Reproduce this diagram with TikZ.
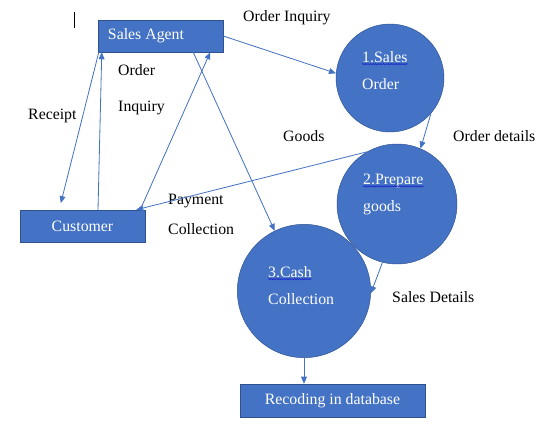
\documentclass[tikz,border=0pt]{standalone}
\usepackage{fontspec}
\setmainfont{Liberation Serif}
\usetikzlibrary{arrows.meta, decorations.pathmorphing}
\definecolor{FlowBlue}{RGB}{68, 114, 196}
\definecolor{FlowEdge}{RGB}{47, 82, 143}
\definecolor{SpellBlue}{RGB}{30, 40, 200}

\begin{document}
\begin{tikzpicture}[x=0.03cm, y=-0.03cm,
    every node/.style={font=\fontsize{13.5}{16}\selectfont},
    entity/.style={draw=FlowEdge, fill=FlowBlue, text=white, minimum height=0.96cm, inner sep=0pt},
    process/.style={circle, draw=FlowEdge, fill=FlowBlue, inner sep=0pt},
    ctext/.style={anchor=west, text=white, inner sep=0pt},
    flowtext/.style={anchor=west, inner sep=0pt},
    flow/.style={-{Triangle[length=6pt, width=5pt]}, draw=FlowBlue, line width=0.7pt},
    squiggle/.style={draw=SpellBlue, line width=0.6pt, decorate, decoration={snake, amplitude=0.5pt, segment length=2.2pt}}]
    \useasboundingbox (0,0) rectangle (560,442);

    % Cursor mark
    \draw[black, line width=0.6pt] (74,12) -- (74,28);

    % External entities
    \node[entity, minimum width=3.75cm] (agent) at (160.5,36) {\makebox[3.15cm][l]{Sales Agent}};
    \node[entity, minimum width=3.75cm] (cust) at (82.5,226) {Customer};
    \node[entity, minimum width=5.55cm, minimum height=0.99cm] (rec) at (332.5,400.5) {Recoding in database};

    % Processes
    \node[process, minimum size=3.24cm] (c1) at (390,78) {};
    \node[process, minimum size=3.6cm] (c2) at (397,204) {};
    \node[process, minimum size=4.0cm] (c3) at (304,291) {};

    % Process texts
    \node[ctext] (c1a) at (362,57) {1.Sales};
    \node[ctext] (c1b) at (362,84) {Order};
    \node[ctext] (c2a) at (363,181) {2.Prepare};
    \node[ctext] (c2b) at (363,208) {goods};
    \node[ctext] (c3a) at (268,272) {3.Cash};
    \node[ctext] (c3b) at (268,299) {Collection};
    \draw[squiggle] ([yshift=-1.5pt]c1a.base west) -- ([yshift=-1.5pt]c1a.base east);
    \draw[squiggle] ([yshift=-1.5pt]c2a.base west) -- ([yshift=-1.5pt]c2a.base east);
    \draw[squiggle] ([yshift=-1.5pt]c3a.base west) -- ([yshift=-1.5pt]c3a.base east);

    % Flow labels
    \node[flowtext] (l1) at (243,18) {Order Inquiry};
    \node[flowtext] (l2) at (118,70) {Order};
    \node[flowtext] (l3) at (118,108) {Inquiry};
    \node[flowtext] (l4) at (28,116) {Receipt};
    \node[flowtext] (l5) at (283,136) {Goods};
    \node[flowtext] (l6) at (453,136) {Order details};
    \node[flowtext] (l7) at (168,201) {Payment};
    \node[flowtext] (l8) at (168,229) {Collection};
    \node[flowtext] (l9) at (392,297) {Sales Details};

    % Arrows
    \draw[flow] (agent.east) -- (c1.175);
    \draw[flow] (c1.-41) -- (c2.67);
    \draw[flow] (c2.120) -- ([xshift=-0.27cm]cust.north east);
    \draw[flow] ([xshift=-0.15cm]cust.north east) -- ([xshift=-0.39cm]agent.south east);
    \draw[flow] ([xshift=0.465cm]cust.north) -- ([xshift=0.12cm]agent.south west);
    \draw[flow] ([xshift=0.03cm]agent.south west) -- ([xshift=-0.65cm, yshift=0.2cm]cust.north);
    \draw[flow] ([xshift=-0.9cm]agent.south east) -- (c3.116);
    \draw[flow] (c2.256) -- (c3.-2);
    \draw[flow] (c3.south) -- (c3.south |- rec.north);
\end{tikzpicture}
\end{document}
